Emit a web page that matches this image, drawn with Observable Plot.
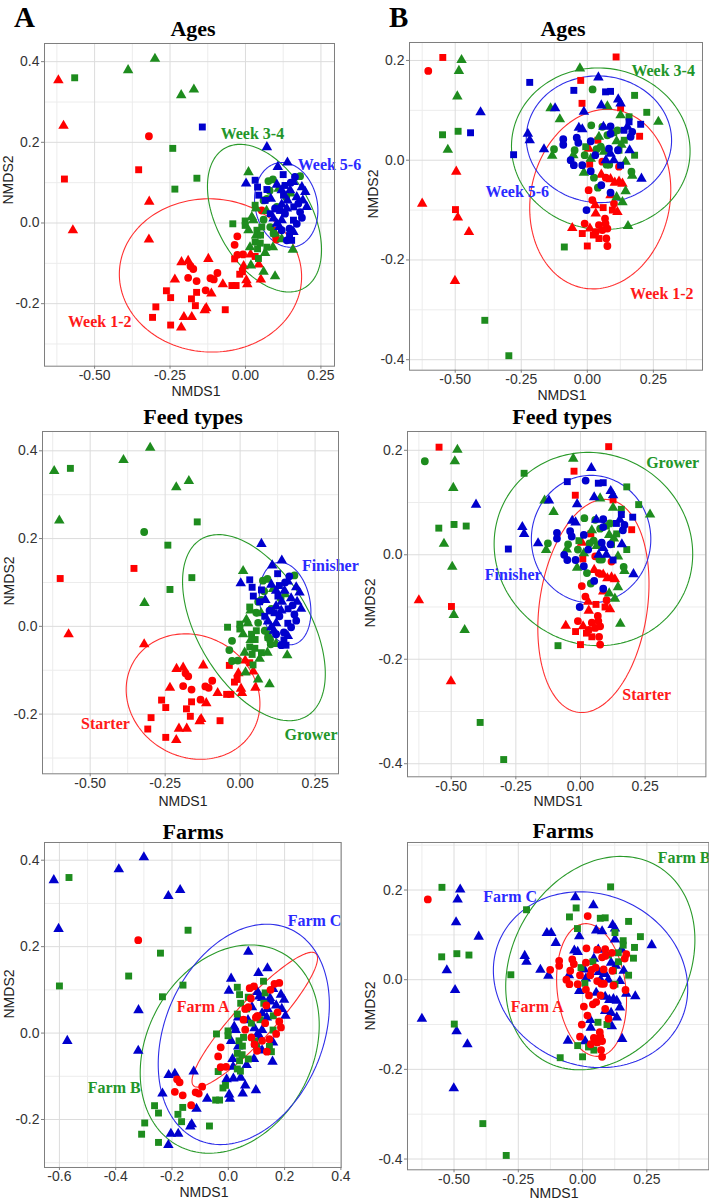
<!DOCTYPE html>
<html><head><meta charset="utf-8">
<script src="https://cdn.jsdelivr.net/npm/d3@7"></script>
<script src="https://cdn.jsdelivr.net/npm/@observablehq/plot@0.6"></script>
<style>
body{margin:0;background:#fff;}
#root{position:relative;width:709px;height:1202px;overflow:hidden;background:#fff;}
#root svg{position:absolute;}
</style></head><body><div id="root"></div>
<script>
// ---------- DATA ----------
// Column A samples: [NMDS1, NMDS2, shape (c=Farm A, s=Farm B, t=Farm C), feed type (S/G/F)]
const A_week12 = [
[-0.620,0.354,"t","G"],[-0.603,0.241,"t","G"],[-0.600,0.109,"s","S"],[-0.572,-0.018,"t","S"],
[-0.354,0.132,"s","S"],[-0.320,0.215,"c","G"],[-0.319,0.053,"t","G"],[-0.320,-0.041,"t","S"],
[-0.212,-0.097,"t","S"],[-0.190,-0.094,"t","S"],[-0.182,-0.107,"c","S"],[-0.173,-0.114,"c","S"],
[-0.123,-0.089,"t","S"],[-0.234,-0.140,"t","S"],[-0.190,-0.136,"c","S"],[-0.162,-0.144,"c","S"],
[-0.116,-0.137,"c","S"],[-0.105,-0.140,"c","S"],[-0.093,-0.124,"c","S"],[-0.075,-0.152,"t","S"],
[-0.045,-0.155,"s","S"],[-0.031,-0.155,"s","S"],[-0.262,-0.168,"s","S"],[-0.248,-0.185,"s","S"],
[-0.162,-0.172,"s","S"],[-0.132,-0.167,"c","S"],[-0.113,-0.175,"t","S"],[-0.179,-0.188,"s","S"],
[-0.166,-0.205,"s","S"],[-0.130,-0.211,"t","S"],[-0.135,-0.216,"t","S"],[-0.297,-0.208,"s","S"],
[-0.308,-0.234,"s","S"],[-0.248,-0.253,"s","S"],[-0.204,-0.233,"t","S"],[-0.178,-0.233,"t","S"],
[-0.067,-0.215,"s","S"],[-0.213,-0.259,"t","S"],
[-0.027,-0.033,"c","G"],[-0.036,-0.054,"c","G"],[-0.027,-0.079,"c","G"],[-0.008,-0.078,"c","G"],
[0.017,-0.078,"t","S"],[-0.036,-0.089,"s","S"],[-0.010,-0.121,"s","S"],[-0.006,-0.107,"t","S"],
[-0.019,-0.127,"s","S"],[0.003,-0.142,"t","S"],[0.006,-0.152,"t","S"],[0.044,-0.103,"t","S"],
[0.051,-0.140,"t","S"],[0.032,-0.083,"s","S"],
[0.054,0.031,"c","G"],[0.093,-0.018,"s","G"],[0.100,-0.030,"s","G"],[0.102,-0.041,"c","G"]
];
const A_week34 = [
[-0.566,0.360,"s","G"],[-0.389,0.379,"t","G"],[-0.300,0.407,"t","G"],[-0.213,0.317,"t","G"],
[-0.171,0.331,"t","G"],[-0.241,0.185,"s","G"],[-0.161,0.111,"s","G"],[-0.234,0.084,"s","G"],
[0.010,0.126,"t","G"],[0.076,0.104,"c","G"],[0.091,0.108,"c","G"],[0.181,0.116,"c","G"],
[0.060,0.056,"c","G"],[0.071,0.060,"c","G"],[0.035,0.036,"t","G"],[0.021,0.015,"t","G"],
[0.060,0.008,"c","G"],[-0.042,-0.002,"s","G"],[-0.001,0.005,"s","G"],[-0.001,-0.006,"s","G"],
[0.026,0.007,"t","G"],[0.010,-0.018,"t","G"],[0.038,-0.018,"s","G"],[0.054,-0.010,"s","G"],
[0.035,-0.031,"t","G"],[0.032,-0.047,"s","G"],[0.049,-0.050,"s","G"],[0.040,-0.064,"s","G"],
[0.071,-0.060,"s","G"],[0.091,-0.060,"t","G"],[0.065,-0.074,"t","G"],[0.043,-0.088,"s","G"],
[0.060,-0.121,"t","G"],[0.098,-0.132,"t","G"],[0.157,-0.066,"t","G"],[0.032,0.044,"s","G"],
[0.104,0.040,"c","G"],[0.082,-0.010,"c","G"],[0.093,-0.026,"c","G"],[0.135,0.064,"c","G"],
[0.150,0.073,"t","G"],[0.098,-0.026,"t","G"],[0.018,-0.105,"t","G"],[0.080,0.080,"c","G"],
[0.110,0.085,"t","G"],[0.070,0.030,"t","G"],[0.120,-0.040,"t","G"],[0.015,-0.060,"t","G"],
[0.050,-0.030,"s","G"]
];
const A_week56 = [
[-0.143,0.238,"s","G"],
[0.071,0.188,"t","F"],[0.139,0.150,"t","F"],[0.107,0.139,"t","F"],[0.002,0.098,"t","F"],
[0.032,0.106,"s","F"],[0.040,0.089,"s","F"],[0.071,0.083,"s","F"],[0.044,0.069,"s","F"],
[0.104,0.095,"t","F"],[0.164,0.114,"c","F"],[0.159,0.102,"t","F"],[0.198,0.077,"t","F"],
[0.190,0.056,"t","F"],[0.203,0.040,"t","F"],[0.181,0.027,"c","F"],[0.187,0.013,"c","F"],
[0.148,0.081,"t","F"],[0.139,0.056,"t","F"],[0.126,0.069,"s","F"],[0.120,0.046,"t","F"],
[0.113,0.031,"s","F"],[0.098,0.036,"c","F"],[0.131,0.023,"c","F"],[0.120,0.007,"t","F"],
[0.159,0.007,"s","F"],[0.146,-0.014,"c","F"],[0.159,-0.022,"t","F"],[0.146,-0.031,"s","F"],
[0.120,-0.018,"c","F"],[0.153,-0.043,"s","F"],[0.093,0.011,"t","F"],[0.082,0.023,"s","F"],
[0.104,-0.002,"t","F"],[0.120,0.081,"t","F"],[0.137,0.036,"t","F"],[0.170,0.064,"t","F"],
[0.175,0.048,"c","F"],[0.065,0.056,"s","F"],[0.084,0.060,"t","F"],[0.131,0.093,"s","F"],
[0.113,-0.010,"t","F"],[0.137,-0.043,"c","F"],[0.170,-0.002,"c","F"],[0.187,0.089,"t","F"],
[0.160,0.040,"s","F"],[0.150,0.100,"c","F"],[0.125,0.120,"s","F"]
];
// Column B samples
const B_week12 = [
[-0.547,0.206,"s","S"],[-0.602,0.179,"c","G"],[-0.496,-0.023,"t","G"],[-0.625,-0.087,"t","S"],
[-0.499,-0.099,"s","S"],[-0.490,-0.115,"t","G"],[-0.448,-0.144,"t","G"],[-0.501,-0.242,"t","S"],
[0.109,0.207,"s","S"],[-0.025,0.160,"s","S"],[-0.020,0.114,"s","S"],[0.126,0.105,"s","S"],
[0.198,0.048,"s","S"],[0.040,0.040,"s","S"],[0.006,0.023,"t","S"],[0.057,-0.003,"c","S"],
[0.009,-0.008,"s","S"],[0.120,-0.013,"c","S"],[0.053,-0.029,"t","S"],[0.088,-0.038,"t","S"],
[0.104,-0.045,"t","S"],[0.120,-0.043,"t","S"],[0.133,-0.047,"t","S"],[0.070,-0.035,"c","S"],
[0.019,-0.080,"c","S"],[0.088,-0.070,"t","S"],[0.101,-0.087,"c","S"],[0.114,-0.104,"t","S"],
[0.032,-0.107,"t","S"],[-0.057,-0.136,"t","S"],[-0.019,-0.147,"s","S"],[-0.010,-0.127,"c","S"],
[0.010,-0.137,"t","S"],[0.032,-0.144,"c","S"],[0.044,-0.130,"c","S"],[0.067,-0.117,"c","S"],
[0.069,-0.127,"c","S"],[0.076,-0.137,"c","S"],[0.057,-0.140,"c","S"],[0.023,-0.150,"s","S"],
[0.044,-0.157,"s","S"],[0.072,-0.157,"c","S"],[0.000,-0.172,"s","S"],[0.076,-0.172,"c","S"],
[0.030,-0.090,"t","S"],[0.060,-0.095,"s","S"],[0.005,-0.060,"c","S"],[0.095,-0.100,"s","S"]
];
const B_week34 = [
[-0.476,0.201,"t","G"],[-0.486,0.179,"t","G"],[-0.492,0.128,"t","G"],[-0.548,0.051,"s","G"],
[-0.489,0.058,"s","G"],[-0.528,0.021,"t","G"],[-0.388,-0.321,"s","G"],[-0.297,-0.392,"s","G"],
[-0.087,-0.174,"s","G"],
[-0.028,0.184,"t","G"],[0.020,0.142,"c","F"],[0.076,0.108,"t","G"],[0.179,0.130,"s","G"],
[-0.139,0.104,"t","G"],[-0.104,0.082,"t","G"],[0.225,0.096,"s","G"],[0.269,0.077,"t","G"],
[0.015,0.070,"c","G"],[0.057,0.067,"c","G"],[0.126,0.090,"t","G"],[0.158,0.087,"s","G"],
[0.114,0.060,"c","G"],[0.076,0.050,"c","G"],[0.044,0.047,"t","G"],[-0.126,0.022,"c","G"],
[-0.133,0.009,"t","G"],[-0.048,0.020,"c","G"],[-0.053,0.010,"t","G"],[-0.010,0.010,"c","G"],
[-0.006,0.027,"s","G"],[0.013,0.003,"t","G"],[0.035,0.022,"c","G"],[0.051,0.027,"c","G"],
[0.063,0.017,"t","G"],[0.111,0.038,"t","G"],[0.129,0.031,"t","G"],[0.140,0.040,"s","G"],
[0.179,0.010,"s","G"],[0.073,-0.009,"c","G"],[0.083,-0.009,"c","G"],[0.145,-0.003,"t","G"],
[0.167,-0.023,"c","G"],[0.170,-0.031,"t","G"],[-0.013,-0.025,"t","G"],[0.025,-0.035,"c","G"],
[0.040,-0.055,"c","G"],[0.111,-0.074,"t","G"],[0.145,-0.062,"t","G"],[0.133,-0.084,"t","G"],
[0.154,-0.132,"t","G"],[0.100,0.055,"s","G"],[0.120,0.020,"s","G"]
];
const B_week56 = [
[-0.404,0.096,"t","F"],[-0.442,0.055,"s","G"],[-0.279,0.011,"s","F"],[-0.218,0.156,"s","G"],
[-0.225,0.053,"t","F"],[-0.218,0.040,"t","F"],[-0.164,0.022,"t","F"],
[0.042,0.166,"t","F"],[-0.051,0.140,"s","F"],[0.069,0.137,"s","F"],[0.088,0.138,"s","F"],
[0.053,0.110,"t","F"],[0.117,0.122,"t","F"],[0.126,0.114,"t","F"],[-0.122,0.104,"t","F"],
[-0.013,0.097,"t","F"],[0.202,0.072,"s","F"],[-0.032,0.065,"t","F"],[-0.019,0.062,"t","F"],
[0.088,0.068,"c","F"],[0.061,0.067,"t","F"],[0.158,0.077,"s","F"],[0.152,0.067,"t","F"],
[0.139,0.060,"s","F"],[0.170,0.057,"c","F"],[0.164,0.047,"c","F"],[0.088,0.053,"c","F"],
[-0.091,0.042,"c","F"],[-0.091,0.031,"c","F"],[-0.040,0.045,"c","F"],[-0.034,0.035,"c","F"],
[0.013,0.038,"c","F"],[-0.063,0.000,"c","F"],[-0.051,-0.010,"c","F"],[-0.019,-0.010,"c","F"],
[0.082,0.023,"c","F"],[0.088,0.013,"t","F"],[0.116,0.020,"c","F"],[0.013,-0.022,"c","F"],
[0.126,-0.010,"s","F"],[0.205,-0.037,"t","F"],[0.053,-0.050,"c","F"],[0.088,-0.065,"c","F"],
[-0.003,-0.100,"c","F"],[0.100,0.000,"t","F"],[0.030,0.010,"c","F"],[0.070,0.000,"t","F"],
[0.160,0.020,"t","F"]
];

// Ellipses: [group, centreX, centreY, halfWidth, halfHeight, x-offset of topmost point]
const ellA_ages = [["12",-0.116,-0.130,0.302,0.190,-0.005],["34",0.063,0.012,0.189,0.183,-0.081],["56",0.135,0.045,0.105,0.105,-0.014]];
const ellB_ages = [["12",0.049,-0.078,0.267,0.180,0.027],["34",0.051,0.023,0.338,0.162,-0.010],["56",0.044,0.042,0.275,0.127,-0.005]];
const ellA_feed = [["S",-0.157,-0.160,0.223,0.143,-0.025],["G",0.046,-0.003,0.238,0.212,-0.118],["F",0.150,0.052,0.086,0.094,-0.017]];
const ellB_feed = [["S",0.050,-0.098,0.215,0.204,0.045],["G",0.050,0.011,0.384,0.185,-0.020],["F",0.041,0.030,0.231,0.122,0.000]];
const ellA_farm = [["A",0.094,0.031,0.223,0.156,0.203],["B",0.005,-0.037,0.318,0.241,0.073],["C",0.055,-0.003,0.304,0.255,0.082]];
const ellB_farm = [["A",0.035,-0.023,0.136,0.148,-0.022],["B",0.069,0.037,0.368,0.238,0.080],["C",0.031,0.000,0.378,0.196,-0.040]];

// Group labels: [group, x, y, text, anchor]
const labA_ages = [["34",0.023,0.221,"Week 3-4","middle"],["56",0.173,0.143,"Week 5-6","start"],["12",-0.483,-0.245,"Week 1-2","middle"]];
const labB_ages = [["34",0.167,0.179,"Week 3-4","start"],["56",-0.385,-0.064,"Week 5-6","start"],["12",0.162,-0.267,"Week 1-2","start"]];
const labA_feed = [["F",0.206,0.138,"Finisher","start"],["S",-0.449,-0.223,"Starter","middle"],["G",0.148,-0.248,"Grower","start"]];
const labB_feed = [["G",0.254,0.176,"Grower","start"],["F",-0.370,-0.039,"Finisher","start"],["S",0.162,-0.269,"Starter","start"]];
const labA_farm = [["C",0.211,0.259,"Farm C","start"],["A",-0.183,0.060,"Farm A","start"],["B",-0.499,-0.127,"Farm B","start"]];
const labB_farm = [["B",0.292,0.271,"Farm B","start"],["C",-0.386,0.185,"Farm C","start"],["A",-0.279,-0.060,"Farm A","start"]];

// Axis ticks
const xTicks25 = [-0.5,-0.25,0,0.25];
const xMinor25 = [-0.625,-0.375,-0.125,0.125,0.375];
const xTicksFarmA = [-0.6,-0.4,-0.2,0,0.2,0.4];
const xMinorFarmA = [-0.5,-0.3,-0.1,0.1,0.3];
const yTicksA = [-0.2,0,0.2,0.4];
const yTicksB = [-0.4,-0.2,0,0.2];
const yMinor = [-0.3,-0.1,0.1,0.3];

const titles = ["Ages","Feed types","Farms"];
const groupKeys = {ages:["12","34","56"], feed:["S","G","F"], farm:["A","B","C"]};
const pointColors = ["#FF0000","#1E8C1E","#0000CD"];
const lineColors = ["#FF3030","#2A9A2A","#2F2FE8"];
const labelColors = ["#FF1A1A","#22962A","#2A2AFF"];

// ---------- BUILD ----------
function toRows(arr, age){
  return arr.map(([x,y,s,f]) => ({x, y, shape:s, ages:age, feed:f, farm: s==="c"?"A":(s==="s"?"B":"C")}));
}
const colA = [...toRows(A_week12,"12"),...toRows(A_week34,"34"),...toRows(A_week56,"56")];
const colB = [...toRows(B_week12,"12"),...toRows(B_week34,"34"),...toRows(B_week56,"56")];

function ellipsePts(ells){
  const out = [];
  for (const [g,cx,cy,hx,hy,dt] of ells){
    const sxy = dt*hy, l21 = sxy/hx, l22 = Math.sqrt(hy*hy - l21*l21);
    for (let i=0;i<=180;i++){
      const t = 2*Math.PI*i/180;
      out.push({g, x: cx + hx*Math.cos(t), y: cy + l21*Math.cos(t) + l22*Math.sin(t)});
    }
  }
  return out;
}

const fmt2 = d => d.toFixed(2);
const fmt1 = d => d.toFixed(1);

const panels = [
 {col:colA, kind:"ages", L:44.3, R:334.3, T:43.3, B:366, xd:[-0.666,0.295], yd:[-0.355,0.445], xt:xTicks25, xm:xMinor25, xf:fmt2, yt:yTicksA, ell:ellA_ages, lab:labA_ages},
 {col:colB, kind:"ages", L:409, R:702, T:42.3, B:370, xd:[-0.673,0.436], yd:[-0.421,0.236], xt:xTicks25, xm:xMinor25, xf:fmt2, yt:yTicksB, ell:ellB_ages, lab:labB_ages},
 {col:colA, kind:"feed", L:42.3, R:338.3, T:431, B:773.3, xd:[-0.659,0.328], yd:[-0.336,0.444], xt:xTicks25, xm:xMinor25, xf:fmt2, yt:yTicksA, ell:ellA_feed, lab:labA_feed},
 {col:colB, kind:"feed", L:407.3, R:705.7, T:430.7, B:776, xd:[-0.669,0.485], yd:[-0.425,0.236], xt:xTicks25, xm:xMinor25, xf:fmt2, yt:yTicksB, ell:ellB_feed, lab:labB_feed},
 {col:colA, kind:"farm", L:44.3, R:341, T:841.7, B:1166.7, xd:[-0.653,0.401], yd:[-0.311,0.441], xt:xTicksFarmA, xm:xMinorFarmA, xf:fmt1, yt:yTicksA, ell:ellA_farm, lab:labA_farm},
 {col:colB, kind:"farm", L:406.7, R:708, T:841.7, B:1169, xd:[-0.681,0.491], yd:[-0.424,0.306], xt:xTicks25, xm:xMinor25, xf:fmt2, yt:yTicksB, ell:ellB_farm, lab:labB_farm}
];

const root = document.getElementById("root");
const mL=48, mR=60, mT=6, mB=26;

for (const p of panels){
  const keys = groupKeys[p.kind];
  const idx = k => keys.indexOf(k);
  const pts = p.col.map(d => ({...d, g: d[p.kind]}));
  const order = p.kind==="farm" ? [2,1,0] : [0,1,2];
  pts.sort((a,b) => order.indexOf(idx(a.g)) - order.indexOf(idx(b.g)));
  const labs = p.lab.map(([g,x,y,text,anchor]) => ({g,x,y,text,anchor}));
  const marks = [
    Plot.gridX(p.xm.filter(v => v>p.xd[0] && v<p.xd[1]), {stroke:"#ececec", strokeOpacity:1, strokeWidth:1}),
    Plot.gridY(yMinor.filter(v => v>p.yd[0] && v<p.yd[1]), {stroke:"#ececec", strokeOpacity:1, strokeWidth:1}),
    Plot.gridX(p.xt, {stroke:"#dcdcdc", strokeOpacity:1, strokeWidth:1}),
    Plot.gridY(p.yt, {stroke:"#dcdcdc", strokeOpacity:1, strokeWidth:1}),
    Plot.axisX(p.xt, {tickFormat:p.xf, tickSize:3, tickPadding:1, label:null, stroke:"#7f7f7f", fill:"#333", fontSize:14}),
    Plot.axisY(p.yt, {tickFormat:fmt1, tickSize:3, tickPadding:2, label:null, stroke:"#7f7f7f", fill:"#333", fontSize:14}),
    Plot.line(ellipsePts(p.ell), {x:"x", y:"y", z:"g", stroke: d => lineColors[idx(d.g)], strokeWidth:1.1}),
    Plot.dot(pts, {x:"x", y:"y", symbol:"shape", fill: d => pointColors[idx(d.g)], r:3.9, stroke:"none"}),
    Plot.text(labs.filter(d=>d.anchor==="start"), {x:"x", y:"y", text:"text", textAnchor:"start", fill: d => labelColors[idx(d.g)], fontFamily:"Liberation Serif, Times New Roman, serif", fontWeight:"bold", fontSize:16}),
    Plot.text(labs.filter(d=>d.anchor==="middle"), {x:"x", y:"y", text:"text", textAnchor:"middle", fill: d => labelColors[idx(d.g)], fontFamily:"Liberation Serif, Times New Roman, serif", fontWeight:"bold", fontSize:16}),
    Plot.frame({stroke:"#7f7f7f", strokeWidth:1})
  ];
  const svg = Plot.plot({
    width: (p.R-p.L)+mL+mR, height:(p.B-p.T)+mT+mB,
    marginLeft:mL, marginRight:mR, marginTop:mT, marginBottom:mB,
    x:{domain:p.xd}, y:{domain:p.yd},
    color:{type:"identity"},
    symbol:{domain:["c","s","t"], range:["circle","square","triangle"]},
    style:{background:"transparent", overflow:"visible", fontFamily:"Liberation Sans, Arial, sans-serif", fontSize:"14px", maxWidth:"none"},
    marks
  });
  svg.style.left = (p.L-mL)+"px";
  svg.style.top = (p.T-mT)+"px";
  svg.style.overflow = "visible";
  root.appendChild(svg);
}

// ---------- overlay text ----------
const ns = "http://www.w3.org/2000/svg";
const ov = document.createElementNS(ns,"svg");
ov.setAttribute("width",709); ov.setAttribute("height",1202);
ov.style.left="0px"; ov.style.top="0px"; ov.style.pointerEvents="none";
root.appendChild(ov);
function addText(txt, x, y, opts){
  const t = document.createElementNS(ns,"text");
  t.textContent = txt;
  t.setAttribute("x",x); t.setAttribute("y",y);
  t.setAttribute("text-anchor", opts.anchor||"middle");
  t.setAttribute("font-family", opts.family||"Liberation Sans, Arial, sans-serif");
  t.setAttribute("font-size", opts.size||14);
  if (opts.weight) t.setAttribute("font-weight", opts.weight);
  t.setAttribute("fill", opts.fill||"#222");
  if (opts.rotate) t.setAttribute("transform", `rotate(-90 ${x} ${y})`);
  ov.appendChild(t);
}
const serif = "Liberation Serif, Times New Roman, serif";
addText("A", 14, 27, {anchor:"start", family:serif, size:29, weight:"bold", fill:"#000"});
addText("B", 389, 27, {anchor:"start", family:serif, size:29, weight:"bold", fill:"#000"});
const titlePos = [[193,36],[563,36],[193,424],[562,424],[193,839],[563,838]];
titlePos.forEach(([x,y],i) => addText(titles[Math.floor(i/2)], x, y, {family:serif, size:22, weight:"bold", fill:"#000"}));
const xlabPos = [[196,396],[562,400],[183,806],[558,806],[204,1197],[554,1198]];
xlabPos.forEach(([x,y]) => addText("NMDS1", x, y, {size:14}));
const ylabPos = [[13,180],[378,194],[13.5,581],[375,603],[14,994],[375,1006]];
ylabPos.forEach(([x,y]) => addText("NMDS2", x, y, {size:14, rotate:true}));
</script></body></html>
